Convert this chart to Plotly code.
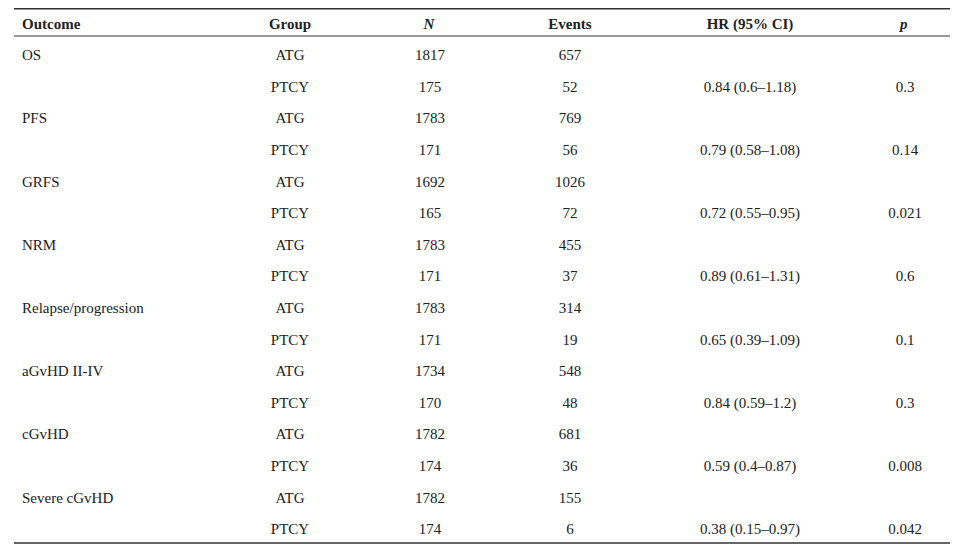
import plotly.graph_objects as go

outcomes = ["OS", "", "PFS", "", "GRFS", "", "NRM", "", "Relapse/progression", "", "aGvHD II-IV", "", "cGvHD", "", "Severe cGvHD", ""]
groups = ["ATG", "PTCY"] * 8
n_vals = [1817, 175, 1783, 171, 1692, 165, 1783, 171, 1783, 171, 1734, 170, 1782, 174, 1782, 174]
events = [657, 52, 769, 56, 1026, 72, 455, 37, 314, 19, 548, 48, 681, 36, 155, 6]
hr = ["", "0.84 (0.6–1.18)", "", "0.79 (0.58–1.08)", "", "0.72 (0.55–0.95)", "", "0.89 (0.61–1.31)",
      "", "0.65 (0.39–1.09)", "", "0.84 (0.59–1.2)", "", "0.59 (0.4–0.87)", "", "0.38 (0.15–0.97)"]
pvals = ["", "0.3", "", "0.14", "", "0.021", "", "0.6", "", "0.1", "", "0.3", "", "0.008", "", "0.042"]
headers = ["<b>Outcome</b>", "<b>Group</b>", "<b><i>N</i></b>", "<b>Events</b>", "<b>HR (95% CI)</b>", "<b><i>p</i></b>"]

W, H = 958, 538
ml, mr, mt, mb = 6, 16, 0, 0
hh, rh = 28, 31.6
ph = H - mt - mb

fig = go.Figure(go.Table(
    columnwidth=[206, 140, 140, 140, 220, 90],
    header=dict(values=headers, align=["left", "center", "center", "center", "center", "center"],
                font=dict(family="Liberation Serif", size=15, color="#222"),
                fill_color="white", line_color="white", height=hh),
    cells=dict(values=[outcomes, groups, n_vals, events, hr, pvals],
               align=["left", "center", "center", "center", "center", "center"],
               font=dict(family="Liberation Serif", size=15, color="#222"),
               fill_color="white", line_color="white", height=rh),
    domain=dict(x=[0, 1], y=[0, 1]),
))

def ypix(p):
    return 1 - (p - mt) / ph

fig.update_layout(
    width=W, height=H, margin=dict(l=ml, r=mr, t=mt, b=mb), paper_bgcolor="white",
    shapes=[
        dict(type="line", xref="paper", yref="paper", x0=0, x1=1, y0=ypix(0.8), y1=ypix(0.8), line=dict(color="#333", width=1.5)),
        dict(type="line", xref="paper", yref="paper", x0=0, x1=1, y0=ypix(28), y1=ypix(28), line=dict(color="#333", width=1)),
        dict(type="line", xref="paper", yref="paper", x0=0, x1=1, y0=ypix(535), y1=ypix(535), line=dict(color="#333", width=1.5)),
    ],
)
fig.write_html("out.html")
